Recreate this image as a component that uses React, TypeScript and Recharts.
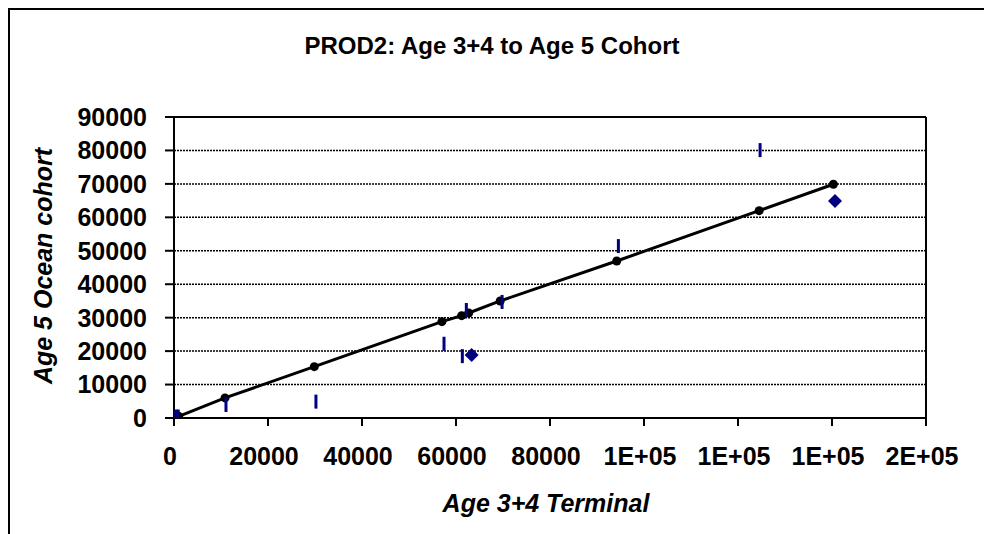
import React from "react";
import {
  ScatterChart,
  Scatter,
  XAxis,
  YAxis,
  CartesianGrid,
  ReferenceLine,
} from "recharts";

// Fitted (black) points joined by the regression line
const fitX = [500, 1000, 10850, 29850, 57000, 61200, 62700, 69400, 94200, 124500, 140300];
const fitY = [250, 500, 6000, 15350, 28800, 30600, 31400, 35000, 46950, 62000, 69900];

// Observed points drawn as short vertical bars
const barX = [350, 900, 11060, 30200, 57450, 61350, 62200, 69800, 94550, 124700];
const barY = [450, 450, 3900, 4900, 22200, 18500, 32300, 34700, 51400, 80100];

// Points drawn as diamonds
const diaX = [63330, 140640];
const diaY = [18850, 64900];

const xTicks = [0, 20000, 40000, 60000, 80000, 100000, 120000, 140000, 160000];
const xTickLabels = ["0", "20000", "40000", "60000", "80000", "1E+05", "1E+05", "1E+05", "2E+05"];
const yTicks = [0, 10000, 20000, 30000, 40000, 50000, 60000, 70000, 80000, 90000];

const title = "PROD2: Age 3+4 to Age 5 Cohort";
const xTitle = "Age 3+4 Terminal";
const yTitle = "Age 5 Ocean cohort";

const zip = (xs: number[], ys: number[]) => xs.map((x, i) => ({ x, y: ys[i] }));
const fitData = zip(fitX, fitY);
const barData = zip(barX, barY);
const diaData = zip(diaX, diaY);

const FONT = "'Liberation Sans', Arial, Helvetica, sans-serif";
const NAVY = "#000080";

const Dot = (p: any) => <circle cx={p.cx} cy={p.cy} r={4.5} fill="#000" />;
const Bar = (p: any) => (
  <rect x={p.cx - 1.5} y={p.cy - 7} width={3} height={14} fill={NAVY} />
);
const Diamond = (p: any) => (
  <polygon
    points={`${p.cx},${p.cy - 7} ${p.cx + 7},${p.cy} ${p.cx},${p.cy + 7} ${p.cx - 7},${p.cy}`}
    fill={NAVY}
  />
);

const tickStyle = { fontFamily: FONT, fontSize: 25, fontWeight: 700, fill: "#000" };

export default function App() {
  return (
    <div style={{ position: "absolute", left: 0, top: 0, width: 984, height: 534, background: "#fff", overflow: "hidden" }}>
      <div style={{ position: "absolute", left: 8, top: 8, width: 976, height: 2, background: "#000" }} />
      <div style={{ position: "absolute", left: 8, top: 8, width: 2, height: 526, background: "#000" }} />
      <div style={{ position: "absolute", left: 0, top: 0 }}>
        <ScatterChart width={984} height={534} margin={{ top: 117, right: 58, bottom: 0, left: 0 }}>
          <CartesianGrid vertical={false} stroke="#000" strokeDasharray="2 1" strokeWidth={1.5} />
          <XAxis
            type="number"
            dataKey="x"
            domain={[0, 160000]}
            ticks={xTicks}
            interval={0}
            allowDataOverflow
            height={116}
            tickSize={8}
            tickMargin={21}
            tickFormatter={(v: number) => xTickLabels[xTicks.indexOf(v)] ?? String(v)}
            tick={{ ...tickStyle, dx: -4 }}
            axisLine={{ stroke: "#000", strokeWidth: 2 }}
            tickLine={{ stroke: "#000", strokeWidth: 2 }}
          />
          <YAxis
            type="number"
            dataKey="y"
            domain={[0, 90000]}
            ticks={yTicks}
            interval={0}
            allowDataOverflow
            width={174}
            tickSize={9}
            tickMargin={18}
            tick={tickStyle}
            axisLine={{ stroke: "#000", strokeWidth: 2 }}
            tickLine={{ stroke: "#000", strokeWidth: 2 }}
          />
          <ReferenceLine y={90000} stroke="#000" strokeWidth={2} />
          <ReferenceLine x={160000} stroke="#000" strokeWidth={2} />
          <Scatter
            data={fitData}
            shape={Dot}
            line={{ stroke: "#000", strokeWidth: 3 }}
            isAnimationActive={false}
          />
          <Scatter data={barData} shape={Bar} isAnimationActive={false} />
          <Scatter data={diaData} shape={Diamond} isAnimationActive={false} />
        </ScatterChart>
      </div>
      <div
        style={{
          position: "absolute",
          left: 0,
          width: 984,
          top: 31,
          textAlign: "center",
          fontFamily: FONT,
          fontSize: 24,
          fontWeight: 700,
          lineHeight: "30px",
          whiteSpace: "nowrap",
        }}
      >
        {title}
      </div>
      <div
        style={{
          position: "absolute",
          left: 346,
          width: 400,
          top: 488,
          textAlign: "center",
          fontFamily: FONT,
          fontSize: 25,
          fontWeight: 700,
          fontStyle: "italic",
          lineHeight: "30px",
          whiteSpace: "nowrap",
        }}
      >
        {xTitle}
      </div>
      <div
        style={{
          position: "absolute",
          left: 43 - 200,
          width: 400,
          top: 266 - 15,
          textAlign: "center",
          fontFamily: FONT,
          fontSize: 25,
          fontWeight: 700,
          fontStyle: "italic",
          lineHeight: "30px",
          whiteSpace: "nowrap",
          transform: "rotate(-90deg)",
          transformOrigin: "50% 50%",
        }}
      >
        {yTitle}
      </div>
    </div>
  );
}
